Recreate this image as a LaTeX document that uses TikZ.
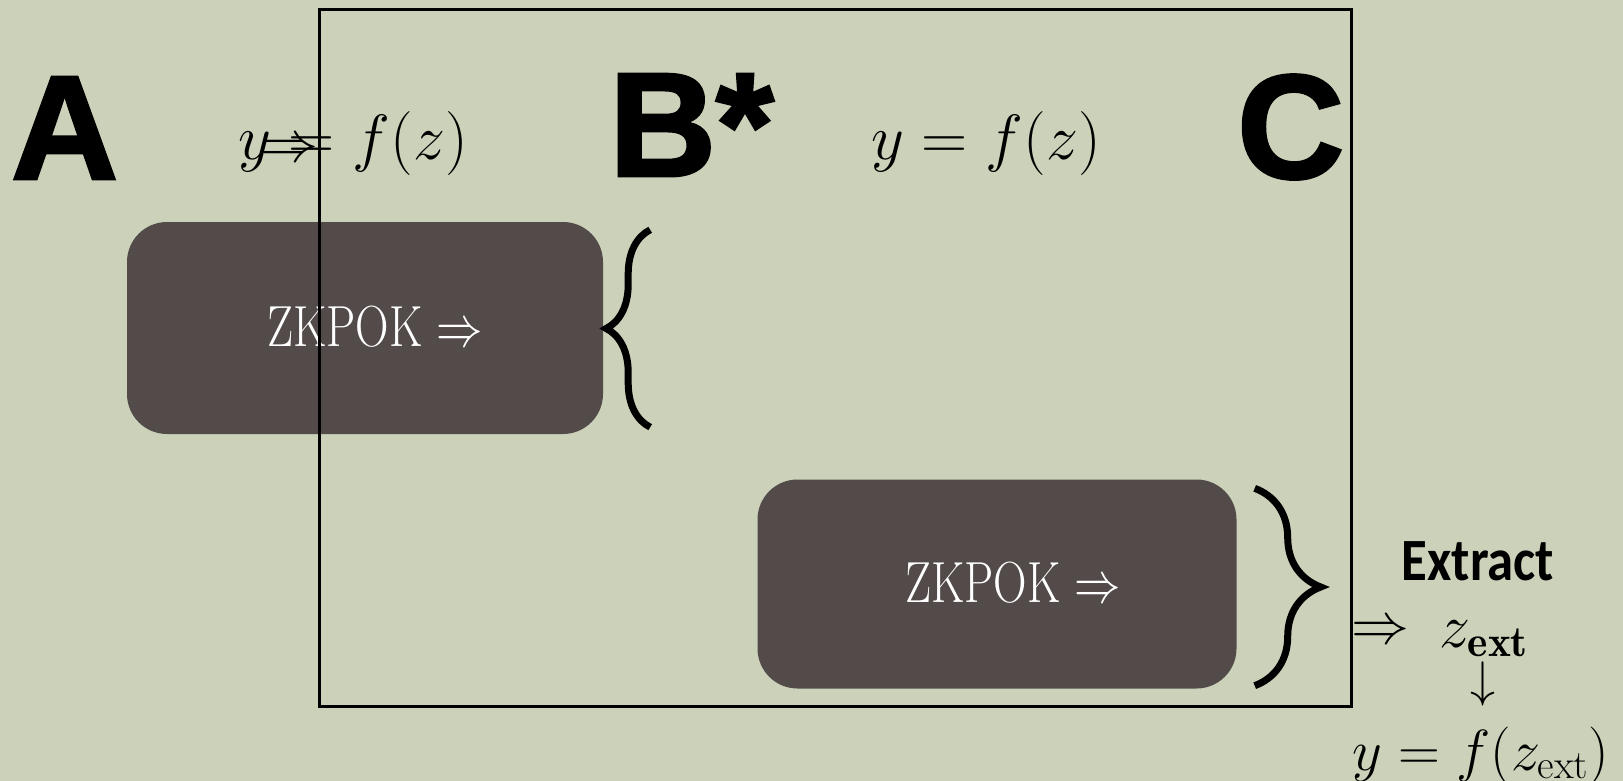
\RequirePackage{fix-cm}
\documentclass[tikz,border=0pt]{standalone}
\usepackage{fontspec}
\usepackage{graphicx}
\usetikzlibrary{positioning, decorations.pathreplacing}
\newfontfamily\partfont{Liberation Sans Bold}[FakeBold=2]
\newfontfamily\extractfont{Carlito}
\definecolor{slidebg}{HTML}{CCD2B9}
\definecolor{proofbox}{HTML}{534B4A}
\tikzset{
  partlabel/.style = {font=\partfont\fontsize{148}{148}\selectfont, inner sep=0pt, anchor=base west},
  eqnlabel/.style  = {font=\fontsize{64}{64}\selectfont, inner sep=0pt, anchor=base},
  zkbox/.style     = {fill=proofbox, rounded corners=40pt, inner sep=0pt},
  zktext/.style    = {text=white, font=\fontsize{58}{58}\selectfont, inner sep=0pt, anchor=base},
  curly/.style     = {decorate, line width=7pt},
  simframe/.style  = {draw=black, line width=3pt, inner sep=0pt},
}

\begin{document}
\begin{tikzpicture}[x=1pt, y=-1pt]
    \useasboundingbox (0,0) rectangle (1623,781);
    \fill[slidebg] (0,0) rectangle (1623,781);
    \node[zkbox, minimum width=476pt, minimum height=212pt] (box1) at (365,328) {};
    \node[zkbox, minimum width=479pt, minimum height=209pt] (box2) at (997,584) {};
    \node[zktext] (zk1) at (375,346) {\scalebox{0.8}[1]{ZKPOK $\Rightarrow$}};
    \node[zktext] (zk2) at (1013,602) {\scalebox{0.8}[1]{ZKPOK $\Rightarrow$}};
    \node[partlabel] (labA) at (11,179) {A};
    \node[partlabel] (labB) at (609,176) {B*};
    \node[partlabel] (labC) at (1237,178) {C};
    \node[eqnlabel] (eqA) at (353,160) {$y = f(z)$};
    \node[eqnlabel, font=\fontsize{58}{58}\selectfont] (eqarr) at (289,162) {$\Rightarrow$};
    \node[eqnlabel] (eqB) at (986,160) {$y = f(z)$};
    \draw[curly, decoration={brace, amplitude=44pt}]
        ([shift={(47,-7)}]box1.south east) -- ([shift={(47,8)}]box1.north east);
    \draw[curly, decoration={brace, amplitude=66pt}]
        ([shift={(18,9)}]box2.north east) -- ([shift={(18,-3)}]box2.south east);
    \node[simframe, minimum width=1032pt, minimum height=696pt] (sim) at (835,358) {};
    \node[inner sep=0pt, anchor=base, font=\extractfont\bfseries\fontsize{60}{60}\selectfont] (extract) at (1478,580) {\scalebox{0.88}[1]{Extract}};
    \node[eqnlabel, font=\fontsize{58}{58}\selectfont] (impl) at (1380,643) {$\Rightarrow$};
    \node[eqnlabel, font=\fontsize{62}{62}\selectfont] (zext) at (1484,647) {$z_{\mathbf{ext}}$};
    \node[eqnlabel, font=\fontsize{50}{50}\selectfont] (down) at (1483,696) {$\downarrow$};
    \node[eqnlabel, font=\fontsize{58}{58}\selectfont] (yext) at (1481,770) {$y = f(z_{\mathrm{ext}})$};
\end{tikzpicture}
\end{document}
